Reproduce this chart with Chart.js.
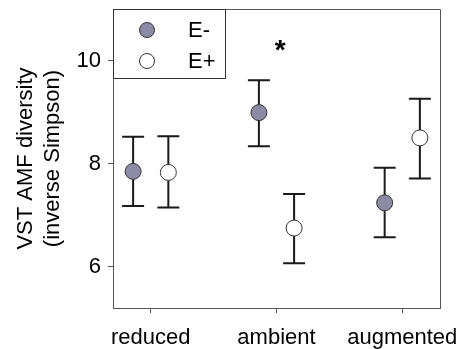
<!DOCTYPE html>
<html>
<head>
<meta charset="utf-8">
<script src="https://cdn.jsdelivr.net/npm/chart.js@4.4.1/dist/chart.umd.min.js"></script>
<style>
  html, body { margin: 0; padding: 0; background: #fff; }
  #wrap { width: 460px; height: 349px; }
</style>
</head>
<body>
<div id="wrap"><canvas id="chart" width="460" height="349"></canvas></div>
<script>
const categories = ["reduced", "ambient", "augmented"];
const eMinusMean = [7.85, 8.99, 7.24];
const eMinusLow = [7.18, 8.34, 6.57];
const eMinusHigh = [8.52, 9.62, 7.92];
const ePlusMean = [7.83, 6.75, 8.5];
const ePlusLow = [7.15, 6.07, 7.71];
const ePlusHigh = [8.53, 7.41, 9.26];
const yTicks = [6, 8, 10];
const seriesNames = ["E-", "E+"];
const starCategory = 1;
const starValue = 10.2;

const dodge = 0.14;
const greyFill = "#8b8ba6";
const lineColor = "#1a1a1a";
const frameColor = "#555";
const font = "'Liberation Sans', Arial, sans-serif";

function points(means, offset) {
  return means.map((v, i) => ({ x: i + offset, y: v }));
}

const errorBars = {
  id: "errorBars",
  beforeDatasetsDraw(chart) {
    const { ctx, scales: { x, y } } = chart;
    const sets = [[eMinusLow, eMinusHigh, -dodge], [ePlusLow, ePlusHigh, dodge]];
    ctx.save();
    ctx.strokeStyle = lineColor;
    ctx.lineWidth = 2;
    sets.forEach(([low, high, off]) => {
      low.forEach((lo, i) => {
        const px = x.getPixelForValue(i + off);
        const yl = y.getPixelForValue(lo);
        const yh = y.getPixelForValue(high[i]);
        ctx.beginPath();
        ctx.moveTo(px, yl); ctx.lineTo(px, yh);
        ctx.moveTo(px - 11, yl); ctx.lineTo(px + 11, yl);
        ctx.moveTo(px - 11, yh); ctx.lineTo(px + 11, yh);
        ctx.stroke();
      });
    });
    ctx.restore();
  }
};

const frameAndLegend = {
  id: "frameAndLegend",
  afterDraw(chart) {
    const { ctx, chartArea: a, scales: { x, y } } = chart;
    ctx.save();
    // top and right frame lines
    ctx.strokeStyle = frameColor;
    ctx.lineWidth = 1;
    ctx.beginPath();
    ctx.moveTo(a.left, a.top + 0.5); ctx.lineTo(a.right + 0.5, a.top + 0.5);
    ctx.lineTo(a.right + 0.5, a.bottom);
    ctx.stroke();

    // legend box
    ctx.fillStyle = "#fff";
    ctx.fillRect(a.left, a.top, 112, 69);
    ctx.strokeStyle = "#333";
    ctx.strokeRect(a.left + 0.5, a.top + 0.5, 112, 69);
    const fills = [greyFill, "#fff"];
    seriesNames.forEach((name, i) => {
      const cy = a.top + 21 + i * 31;
      ctx.beginPath();
      ctx.arc(a.left + 34, cy, 7.5, 0, Math.PI * 2);
      ctx.fillStyle = fills[i];
      ctx.fill();
      ctx.strokeStyle = "#333";
      ctx.stroke();
      ctx.fillStyle = "#000";
      ctx.font = "22px " + font;
      ctx.textBaseline = "middle";
      ctx.fillText(name, a.left + 75, cy + 1);
    });

    // significance star
    ctx.fillStyle = "#000";
    ctx.font = "bold 28px " + font;
    ctx.textAlign = "center";
    ctx.textBaseline = "middle";
    ctx.fillText("*", x.getPixelForValue(starCategory + 0.03), y.getPixelForValue(starValue) + 1);
    ctx.restore();
  }
};

new Chart(document.getElementById("chart"), {
  type: "scatter",
  data: {
    datasets: [
      {
        label: seriesNames[0],
        data: points(eMinusMean, -dodge),
        pointRadius: 8,
        pointBackgroundColor: greyFill,
        pointBorderColor: "#333",
        pointBorderWidth: 1
      },
      {
        label: seriesNames[1],
        data: points(ePlusMean, dodge),
        pointRadius: 8,
        pointBackgroundColor: "#fff",
        pointBorderColor: "#333",
        pointBorderWidth: 1
      }
    ]
  },
  options: {
    responsive: false,
    animation: false,
    events: [],
    layout: { padding: { top: 9, right: 20, left: 0, bottom: 0 } },
    plugins: { legend: { display: false }, tooltip: { enabled: false } },
    scales: {
      x: {
        type: "linear",
        min: -0.3,
        max: 2.3,
        afterBuildTicks: (s) => { s.ticks = categories.map((c, i) => ({ value: i })); },
        afterFit: (s) => {
          s.height = 41;
          s.paddingLeft = 0; s.paddingRight = 0;
        },
        ticks: {
          callback: (v) => categories[v],
          color: "#000",
          font: { family: font, size: 22 },
          padding: 12,
          maxRotation: 0
        },
        grid: { drawOnChartArea: false, tickLength: 5, color: frameColor },
        border: { color: frameColor }
      },
      y: {
        min: 5.2,
        max: 11.0,
        afterBuildTicks: (s) => { s.ticks = yTicks.map((v) => ({ value: v })); },
        afterFit: (s) => {
          s.width = 113;
          s.paddingTop = 0; s.paddingBottom = 0;
        },
        ticks: {
          color: "#000",
          font: { family: font, size: 22 },
          padding: 7
        },
        grid: { drawOnChartArea: false, tickLength: 5, color: frameColor },
        border: { color: frameColor },
        title: {
          display: true,
          text: ["VST AMF diversity", "(inverse Simpson)"],
          color: "#000",
          font: { family: font, size: 22, lineHeight: 1.2 },
          padding: { top: 13, bottom: 0 }
        }
      }
    }
  },
  plugins: [errorBars, frameAndLegend]
});
</script>
</body>
</html>
